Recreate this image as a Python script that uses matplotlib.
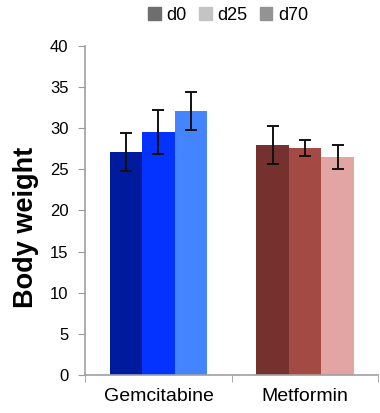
import numpy as np
import matplotlib.pyplot as plt
from matplotlib.patches import Patch

plt.rcParams['font.family'] = ['Liberation Sans', 'DejaVu Sans']

groups = ['Gemcitabine', 'Metformin']
series = ['d0', 'd25', 'd70']
gem_vals = [27.1, 29.5, 32.1]
gem_err = [2.3, 2.7, 2.35]
met_vals = [27.9, 27.6, 26.5]
met_err = [2.3, 1.0, 1.5]
gem_colors = ['#001a9e', '#0433ff', '#4485ff']
met_colors = ['#74312d', '#a34a45', '#e2a5a3']
legend_colors = ['#6e6e6e', '#c4c4c4', '#939393']

fig = plt.figure(figsize=(3.8, 4.13), dpi=100)
ax = fig.add_axes([0.224, 0.092, 0.772, 0.797])

w = 0.2215
offsets = np.array([-1, 0, 1]) * w
ekw = dict(elinewidth=1.4, capthick=1.4, ecolor='#111111')
for i in range(3):
    ax.bar(0 + offsets[i], gem_vals[i], w, color=gem_colors[i],
           yerr=gem_err[i], capsize=4, error_kw=ekw)
    ax.bar(1 + offsets[i], met_vals[i], w, color=met_colors[i],
           yerr=met_err[i], capsize=4, error_kw=ekw)

ax.set_xlim(-0.5, 1.5)
ax.set_ylim(0, 40)
ax.set_yticks(range(0, 41, 5))
ax.set_xticks([0, 1])
ax.set_xticklabels(groups, fontsize=14)
ax.set_xticks([-0.5, 0.5, 1.5], minor=True)
ax.tick_params(axis='x', which='major', length=0, pad=9)
ax.tick_params(axis='x', which='minor', length=5, color='#999999')
ax.tick_params(axis='y', length=5, color='#999999', labelsize=12, pad=7)

for s in ['top', 'right']:
    ax.spines[s].set_visible(False)
for s in ['left', 'bottom']:
    ax.spines[s].set_color('#a0a0a0')
    ax.spines[s].set_linewidth(1.2)

ax.set_ylabel('Body weight', fontsize=19.5, fontweight='bold')
ax.yaxis.set_label_coords(-0.158, 0.447)

handles = [Patch(color=c, label=l) for c, l in zip(legend_colors, series)]
fig.legend(handles=handles, loc='center', bbox_to_anchor=(0.6, 0.963), ncol=3,
           frameon=False, fontsize=13, handlelength=0.7, handleheight=0.7,
           handletextpad=0.3, columnspacing=0.7)

fig.savefig('out.png', dpi=100)
